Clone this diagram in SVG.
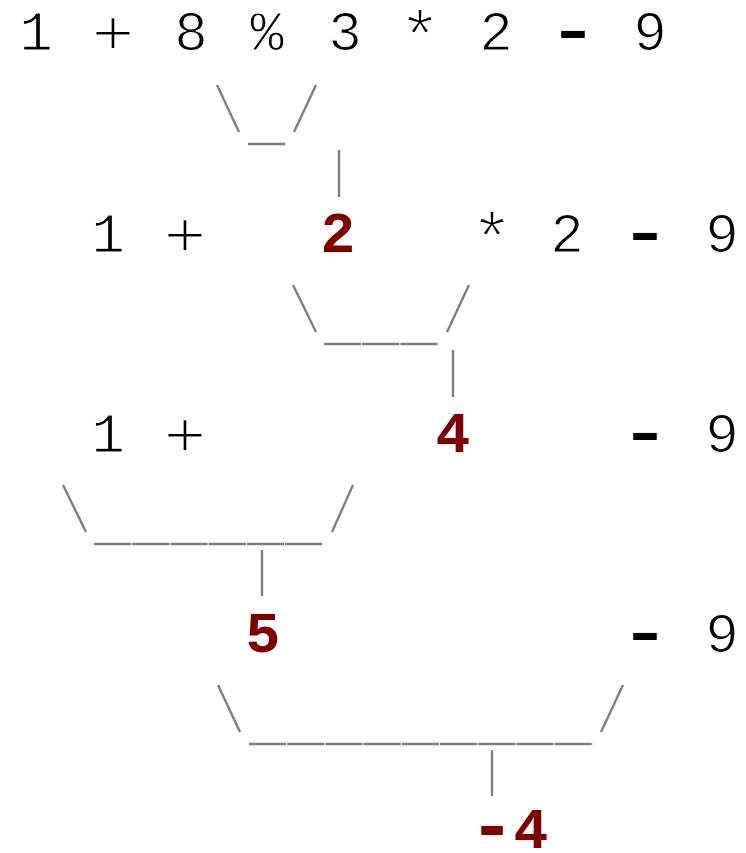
<svg xmlns="http://www.w3.org/2000/svg" width="746" height="853" viewBox="0 0 746 853">
<style>
.t{font-family:"Liberation Mono","Courier New",monospace;font-size:56px;fill:#000;text-anchor:middle;stroke:#fff;stroke-width:1.2px}
.pl{font-size:64px;stroke-width:2.2px}
.st{font-size:70px;stroke-width:1.8px}
.mn{font-size:60px;font-weight:bold;stroke:none}
.r{font-family:"Liberation Mono","Courier New",monospace;font-size:58px;font-weight:bold;fill:#800000;text-anchor:middle}
.c line{stroke:#808080;stroke-width:2.4;stroke-linecap:butt}
.c line.u{stroke-dasharray:37.2 1}
</style>
<rect width="746" height="853" fill="#fff"/>
<g id="row1">
<text class="t" x="36" y="50">1</text>
<text class="t pl" x="113" y="55" textLength="44" lengthAdjust="spacingAndGlyphs">+</text>
<text class="t" x="191" y="50">8</text>
<text class="t" x="267" y="50">%</text>
<text class="t" x="345" y="50">3</text>
<text class="t st" x="420" y="60">*</text>
<text class="t" x="496" y="50">2</text>
<text class="t mn" x="573" y="50" textLength="50" lengthAdjust="spacingAndGlyphs">-</text>
<text class="t" x="650" y="50">9</text>
</g>
<g id="row2">
<text class="t" x="108" y="252">1</text>
<text class="t pl" x="185" y="257" textLength="44" lengthAdjust="spacingAndGlyphs">+</text>
<text class="t st" x="492" y="262">*</text>
<text class="t" x="567" y="252">2</text>
<text class="t mn" x="645" y="252" textLength="50" lengthAdjust="spacingAndGlyphs">-</text>
<text class="t" x="722" y="252">9</text>
</g>
<g id="result-2"><text class="r" x="338" y="252">2</text></g>
<g id="row3">
<text class="t" x="108" y="452">1</text>
<text class="t pl" x="185" y="457" textLength="44" lengthAdjust="spacingAndGlyphs">+</text>
<text class="t mn" x="645" y="452" textLength="50" lengthAdjust="spacingAndGlyphs">-</text>
<text class="t" x="722" y="452">9</text>
</g>
<g id="result-4"><text class="r" x="453" y="452">4</text></g>
<g id="row4">
<text class="t mn" x="645" y="652" textLength="50" lengthAdjust="spacingAndGlyphs">-</text>
<text class="t" x="722" y="652">9</text>
</g>
<g id="result-5"><text class="r" x="263" y="652">5</text></g>
<g id="result-neg4"><text class="r" y="848"><tspan x="492" y="850" font-size="76">-</tspan><tspan x="531" y="848">4</tspan></text></g>
<g id="connectors" class="c">
<line x1="217" y1="85" x2="239" y2="132"/>
<line x1="316" y1="85" x2="294" y2="132"/>
<line class="u" x1="248" y1="144" x2="286" y2="144"/>
<line x1="339" y1="150" x2="339" y2="197"/>
<line x1="293" y1="285" x2="316" y2="332"/>
<line x1="469" y1="285" x2="447" y2="332"/>
<line class="u" x1="324" y1="344" x2="438" y2="344"/>
<line x1="453" y1="350" x2="453" y2="397"/>
<line x1="63" y1="485" x2="86" y2="532"/>
<line x1="353" y1="485" x2="332" y2="532"/>
<line class="u" x1="94" y1="544" x2="323" y2="544"/>
<line x1="262" y1="550" x2="262" y2="596"/>
<line x1="218" y1="685" x2="240" y2="732"/>
<line x1="623" y1="685" x2="601" y2="732"/>
<line class="u" x1="249" y1="744" x2="593" y2="744"/>
<line x1="492" y1="750" x2="492" y2="796"/>
</g>
</svg>
